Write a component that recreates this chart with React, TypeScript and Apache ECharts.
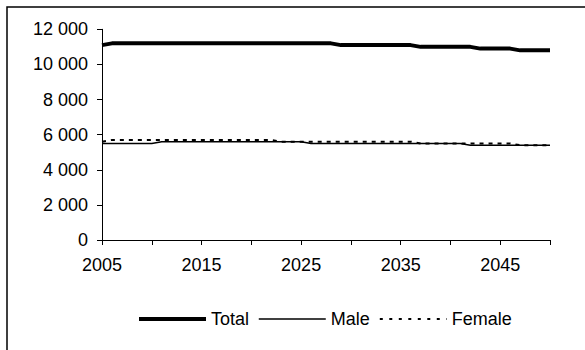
import React, { useEffect, useRef } from "react";
import * as echarts from "echarts";

const years: string[] = [];
for (let y = 2005; y <= 2050; y++) years.push(String(y));

// 2005..2050
const total: number[] = [
  11100, 11200, 11200, 11200, 11200, 11200, 11200, 11200, 11200, 11200,
  11200, 11200, 11200, 11200, 11200, 11200, 11200, 11200, 11200, 11200,
  11200, 11200, 11200, 11200, 11100, 11100, 11100, 11100, 11100, 11100,
  11100, 11100, 11000, 11000, 11000, 11000, 11000, 11000, 10900, 10900,
  10900, 10900, 10800, 10800, 10800, 10800,
];
const male: number[] = [
  5500, 5500, 5500, 5500, 5500, 5500, 5600, 5600, 5600, 5600,
  5600, 5600, 5600, 5600, 5600, 5600, 5600, 5600, 5600, 5600,
  5600, 5500, 5500, 5500, 5500, 5500, 5500, 5500, 5500, 5500,
  5500, 5500, 5500, 5500, 5500, 5500, 5500, 5400, 5400, 5400,
  5400, 5400, 5400, 5400, 5400, 5400,
];
const female: number[] = [
  5600, 5700, 5700, 5700, 5700, 5700, 5700, 5700, 5700, 5700,
  5700, 5700, 5700, 5700, 5700, 5700, 5700, 5700, 5600, 5600,
  5600, 5600, 5600, 5600, 5600, 5600, 5600, 5600, 5600, 5600,
  5600, 5600, 5500, 5500, 5500, 5500, 5500, 5500, 5500, 5500,
  5500, 5500, 5400, 5400, 5400, 5400,
];

const FONT = "'Liberation Sans', Arial, sans-serif";

function fmt(v: number): string {
  const s = String(Math.round(v));
  return s.replace(/\B(?=(\d{3})+(?!\d))/g, " ");
}

export default function App() {
  const ref = useRef<HTMLDivElement>(null);
  useEffect(() => {
    if (!ref.current) return;
    const chart = echarts.init(ref.current, null, { renderer: "svg" });
    chart.setOption({
      animation: false,
      backgroundColor: "#fff",
      textStyle: { fontFamily: FONT, color: "#000" },
      graphic: [
        {
          type: "rect",
          shape: { x: 7, y: 7, width: 700, height: 500 },
          style: { fill: "none", stroke: "#000", lineWidth: 1.5 },
          silent: true,
        },
      ],
      grid: { left: 102, right: 35, top: 29.3, bottom: 110, containLabel: false },
      xAxis: {
        type: "category",
        data: years,
        boundaryGap: false,
        axisLine: { lineStyle: { color: "#000", width: 1 } },
        axisTick: { interval: 4, length: 5, lineStyle: { color: "#000" } },
        axisLabel: {
          interval: 9,
          margin: 16,
          fontSize: 18,
          color: "#000",
          fontFamily: FONT,
        },
        splitLine: { show: false },
      },
      yAxis: {
        type: "value",
        min: 0,
        max: 12000,
        interval: 2000,
        axisLine: { show: true, lineStyle: { color: "#000", width: 1 } },
        axisTick: { show: true, length: 5, lineStyle: { color: "#000" } },
        axisLabel: {
          margin: 14,
          fontSize: 18,
          color: "#000",
          fontFamily: FONT,
          formatter: (v: number) => fmt(v),
        },
        splitLine: { show: false },
      },
      legend: {
        left: 132,
        top: 305,
        itemWidth: 67,
        itemHeight: 14,
        itemGap: 9,
        itemStyle: { opacity: 0 },
        textStyle: { fontSize: 18, color: "#000", fontFamily: FONT },
        data: [
          { name: "Total", lineStyle: { width: 4, color: "#000" } },
          { name: "Male", lineStyle: { width: 1.5, color: "#000" } },
          { name: "Female", lineStyle: { width: 2, color: "#000", type: [3, 6.5] } },
        ],
      },
      series: [
        {
          name: "Total",
          type: "line",
          data: total,
          symbol: "none",
          lineStyle: { color: "#000", width: 4 },
          itemStyle: { color: "#000" },
        },
        {
          name: "Male",
          type: "line",
          data: male,
          symbol: "none",
          lineStyle: { color: "#000", width: 1.5 },
          itemStyle: { color: "#000" },
        },
        {
          name: "Female",
          type: "line",
          data: female,
          symbol: "none",
          lineStyle: { color: "#000", width: 2, type: [4, 5], cap: "butt" },
          itemStyle: { color: "#000" },
        },
      ],
    });
    return () => chart.dispose();
  }, []);
  return (
    <div
      ref={ref}
      style={{ position: "fixed", left: 0, top: 0, width: 585, height: 350 }}
    />
  );
}
